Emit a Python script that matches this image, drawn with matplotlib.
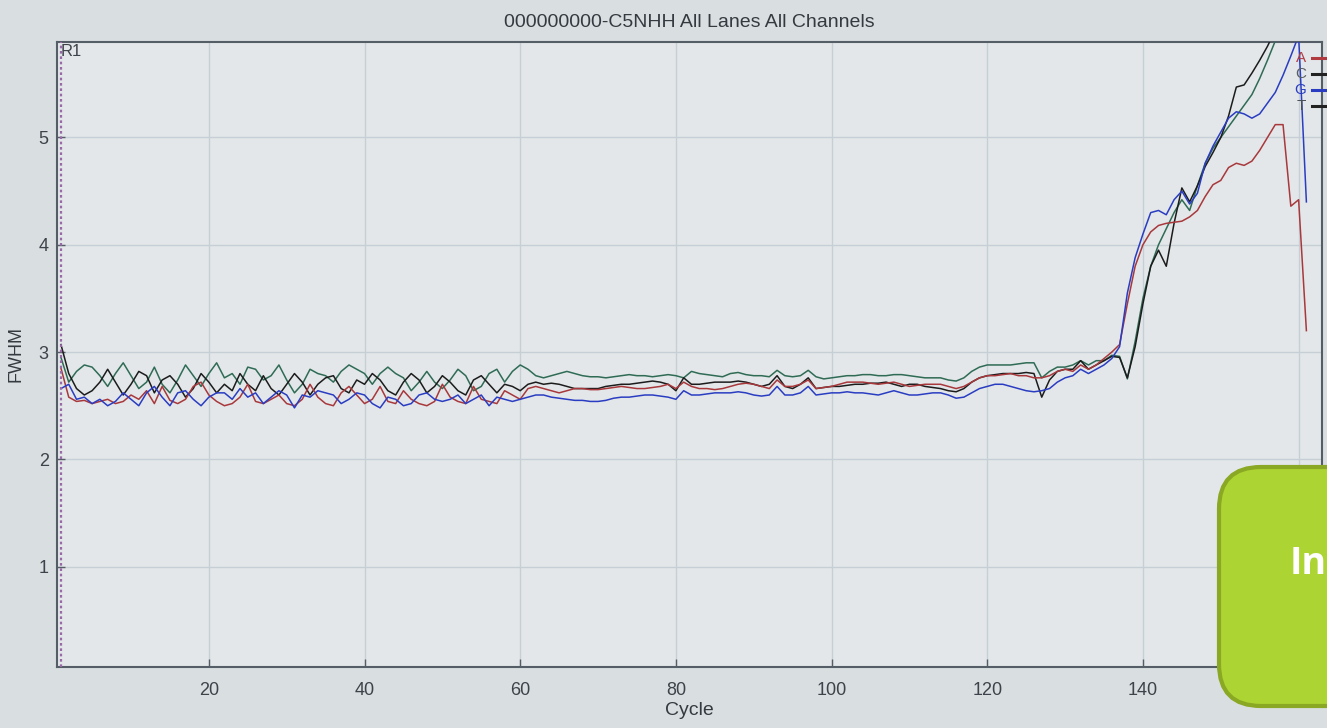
import numpy as np
import matplotlib.pyplot as plt
import matplotlib.patches as mpatches

plt.rcParams['font.family'] = ['Liberation Sans', 'DejaVu Sans']

title = "000000000-C5NHH All Lanes All Channels"
cycles = np.arange(1, 162)

# FWHM per cycle
fwhm_A = [2.85, 2.58, 2.54, 2.55, 2.52, 2.54, 2.56, 2.52, 2.54, 2.60,
          2.56, 2.64, 2.52, 2.68, 2.55, 2.52, 2.56, 2.68, 2.72, 2.60,
          2.54, 2.50, 2.52, 2.58, 2.70, 2.54, 2.52, 2.56, 2.60, 2.52,
          2.50, 2.56, 2.70, 2.58, 2.52, 2.50, 2.62, 2.68, 2.60, 2.52,
          2.56, 2.68, 2.54, 2.52, 2.64, 2.56, 2.52, 2.50, 2.54, 2.70,
          2.58, 2.54, 2.52, 2.68, 2.56, 2.54, 2.52, 2.64, 2.60, 2.56,
          2.66, 2.68, 2.66, 2.64, 2.62, 2.64, 2.66, 2.66, 2.65, 2.65,
          2.66, 2.67, 2.68, 2.67, 2.66, 2.66, 2.67, 2.68, 2.70, 2.66,
          2.72, 2.68, 2.66, 2.66, 2.65, 2.66, 2.68, 2.70, 2.71, 2.70,
          2.68, 2.66, 2.74, 2.68, 2.68, 2.70, 2.74, 2.66, 2.67, 2.68,
          2.70, 2.72, 2.72, 2.72, 2.71, 2.70, 2.71, 2.72, 2.70, 2.68,
          2.69, 2.70, 2.70, 2.70, 2.68, 2.66, 2.68, 2.72, 2.76, 2.78,
          2.78, 2.79, 2.80, 2.78, 2.78, 2.76, 2.76, 2.78, 2.82, 2.84,
          2.82, 2.88, 2.84, 2.88, 2.94, 3.00, 3.07, 3.45, 3.80, 4.00,
          4.12, 4.18, 4.20, 4.21, 4.22, 4.26, 4.32, 4.45, 4.56, 4.60,
          4.72, 4.76, 4.74, 4.78, 4.88, 5.00, 5.12, 5.12, 4.36, 4.42,
          3.20]

fwhm_C = [2.95, 2.72, 2.82, 2.88, 2.86, 2.78, 2.68, 2.80, 2.90, 2.78,
          2.66, 2.72, 2.86, 2.70, 2.62, 2.74, 2.88, 2.78, 2.68, 2.80,
          2.90, 2.76, 2.80, 2.70, 2.86, 2.84, 2.74, 2.78, 2.88, 2.74,
          2.62, 2.70, 2.84, 2.80, 2.78, 2.72, 2.82, 2.88, 2.84, 2.80,
          2.70, 2.80, 2.86, 2.80, 2.76, 2.64, 2.72, 2.82, 2.72, 2.66,
          2.74, 2.84, 2.78, 2.64, 2.68, 2.80, 2.84, 2.72, 2.82, 2.88,
          2.84, 2.78, 2.76, 2.78, 2.80, 2.82, 2.80, 2.78, 2.77, 2.77,
          2.76, 2.77, 2.78, 2.79, 2.78, 2.78, 2.77, 2.78, 2.79, 2.78,
          2.76, 2.82, 2.80, 2.79, 2.78, 2.77, 2.80, 2.81, 2.79, 2.78,
          2.78, 2.77, 2.83, 2.78, 2.77, 2.78, 2.83, 2.77, 2.75, 2.76,
          2.77, 2.78, 2.78, 2.79, 2.79, 2.78, 2.78, 2.79, 2.79, 2.78,
          2.77, 2.76, 2.76, 2.76, 2.74, 2.73, 2.76, 2.82, 2.86, 2.88,
          2.88, 2.88, 2.88, 2.89, 2.90, 2.90, 2.76, 2.82, 2.86, 2.86,
          2.88, 2.92, 2.88, 2.92, 2.92, 2.97, 2.96, 2.75, 3.10, 3.50,
          3.80, 4.00, 4.15, 4.30, 4.42, 4.32, 4.55, 4.76, 4.90, 5.00,
          5.10, 5.20, 5.30, 5.40, 5.55, 5.72, 5.90, 6.10, 6.30, 6.50,
          6.70]

fwhm_G = [2.66, 2.70, 2.56, 2.58, 2.52, 2.56, 2.50, 2.54, 2.62, 2.56,
          2.50, 2.62, 2.68, 2.58, 2.50, 2.62, 2.64, 2.56, 2.50, 2.58,
          2.62, 2.62, 2.56, 2.66, 2.58, 2.62, 2.52, 2.58, 2.64, 2.60,
          2.48, 2.60, 2.58, 2.64, 2.62, 2.60, 2.52, 2.56, 2.62, 2.60,
          2.52, 2.48, 2.58, 2.56, 2.50, 2.52, 2.60, 2.62, 2.56, 2.54,
          2.56, 2.60, 2.52, 2.56, 2.60, 2.50, 2.58, 2.56, 2.54, 2.56,
          2.58, 2.60, 2.60, 2.58, 2.57, 2.56, 2.55, 2.55, 2.54, 2.54,
          2.55, 2.57, 2.58, 2.58, 2.59, 2.60, 2.60, 2.59, 2.58, 2.56,
          2.64, 2.60, 2.60, 2.61, 2.62, 2.62, 2.62, 2.63, 2.62, 2.60,
          2.59, 2.60, 2.68, 2.60, 2.60, 2.62, 2.68, 2.60, 2.61, 2.62,
          2.62, 2.63, 2.62, 2.62, 2.61, 2.60, 2.62, 2.64, 2.62, 2.60,
          2.60, 2.61, 2.62, 2.62, 2.60, 2.57, 2.58, 2.62, 2.66, 2.68,
          2.70, 2.70, 2.68, 2.66, 2.64, 2.63, 2.64, 2.66, 2.72, 2.76,
          2.78, 2.84, 2.80, 2.84, 2.88, 2.94, 3.05, 3.55, 3.88, 4.10,
          4.30, 4.32, 4.28, 4.42, 4.50, 4.38, 4.48, 4.76, 4.92, 5.05,
          5.18, 5.24, 5.22, 5.18, 5.22, 5.32, 5.42, 5.58, 5.76, 5.95,
          4.40]

fwhm_T = [3.07, 2.80, 2.66, 2.60, 2.64, 2.72, 2.84, 2.72, 2.60, 2.70,
          2.82, 2.78, 2.62, 2.74, 2.78, 2.70, 2.58, 2.66, 2.80, 2.72,
          2.62, 2.70, 2.64, 2.80, 2.70, 2.64, 2.78, 2.66, 2.60, 2.70,
          2.80, 2.72, 2.60, 2.70, 2.76, 2.78, 2.66, 2.62, 2.74, 2.70,
          2.80, 2.74, 2.64, 2.60, 2.72, 2.80, 2.74, 2.62, 2.68, 2.78,
          2.72, 2.64, 2.60, 2.74, 2.78, 2.70, 2.62, 2.70, 2.68, 2.64,
          2.70, 2.72, 2.70, 2.71, 2.70, 2.68, 2.66, 2.66, 2.66, 2.66,
          2.68, 2.69, 2.70, 2.70, 2.71, 2.72, 2.73, 2.72, 2.70, 2.64,
          2.76, 2.70, 2.70, 2.71, 2.72, 2.72, 2.72, 2.73, 2.72, 2.70,
          2.68, 2.70, 2.78, 2.68, 2.66, 2.70, 2.76, 2.66, 2.67, 2.68,
          2.68, 2.69, 2.70, 2.70, 2.71, 2.71, 2.72, 2.70, 2.68, 2.70,
          2.70, 2.68, 2.67, 2.66, 2.64, 2.63, 2.66, 2.72, 2.76, 2.78,
          2.79, 2.80, 2.80, 2.80, 2.81, 2.80, 2.58, 2.74, 2.82, 2.84,
          2.84, 2.92, 2.84, 2.88, 2.92, 2.96, 2.95, 2.76, 3.05, 3.45,
          3.80, 3.95, 3.80, 4.20, 4.53, 4.40, 4.55, 4.73, 4.86, 5.00,
          5.20, 5.47, 5.49, 5.60, 5.72, 5.85, 6.00, 6.15, 6.30, 6.45,
          6.60]

channels = ["A", "C", "G", "T"]
line_colors = {"A": "#a8383c", "C": "#2f6b55", "G": "#2a3dc2", "T": "#1c1c1c"}
letter_colors = {"A": "#b04048", "C": "#5a5f66", "G": "#2a3dc2", "T": "#4a4f55"}
legend_line_colors = {"A": "#b03a40", "C": "#222222", "G": "#2a3dc2", "T": "#222222"}
series = {"A": fwhm_A, "C": fwhm_C, "G": fwhm_G, "T": fwhm_T}

xticks = [20, 40, 60, 80, 100, 120, 140, 160]
yticks = [1, 2, 3, 4, 5]

fig = plt.figure(figsize=(13.27, 7.28), dpi=100, facecolor="#d9dee1")
ax = fig.add_axes([0.043, 0.0838, 0.9532, 0.8585])
ax.set_facecolor("#e3e7e9")

# draw order: green and black underneath
for ch in ["C", "T", "A", "G"]:
    ax.plot(cycles, series[ch], color=line_colors[ch], lw=1.1, zorder=3)

ax.set_xlim(0.5, 163)
ax.set_ylim(0.065, 5.89)
ax.set_xticks(xticks)
ax.set_yticks(yticks)
ax.grid(True, color="#c6ced6", lw=1.0)
ax.set_axisbelow(True)
ax.tick_params(direction="in", length=6, width=1, color="#555d66",
               labelsize=13, labelcolor="#3d434a")
ax.tick_params(axis="x", pad=11)
ax.tick_params(axis="y", pad=6)
for s in ax.spines.values():
    s.set_color("#555d66")
    s.set_linewidth(1.5)

ax.set_title(title, fontsize=14, color="#343a40", pad=11)
ax.set_xlabel("Cycle", fontsize=14, color="#343a40", labelpad=2)
ax.set_ylabel("FWHM", fontsize=13, color="#343a40", labelpad=10)

# R1 marker (dotted line at the first cycle)
ax.axvline(1, color="#9a6aa8", lw=1.6, ls=(0, (1.2, 1.2)), zorder=4)
ax.text(0.003, 0.997, "R1", transform=ax.transAxes, fontsize=12,
        color="#3d434a", va="top", ha="left")

# channel legend at the right edge
for i, ch in enumerate(channels):
    yy = 0.974 - i * 0.0255
    ax.text(0.9875, yy, ch, transform=ax.transAxes, fontsize=11,
            color=letter_colors[ch], ha="right", va="center")
    ax.plot([0.9925, 1.006], [yy, yy], transform=ax.transAxes,
            color=legend_line_colors[ch], lw=2.2, clip_on=False, zorder=5)

# green badge over the lower right corner
badge = mpatches.FancyBboxPatch((12.19, 0.22), 2.2, 2.39,
                                boxstyle="round,pad=0,rounding_size=0.42",
                                transform=fig.dpi_scale_trans,
                                facecolor="#acd432", edgecolor="#8aa823",
                                lw=3, zorder=10)
fig.add_artist(badge)
fig.text(12.9 / 13.27, 1.64 / 7.28, "In", fontsize=27, fontweight="bold",
         color="white", ha="left", va="center", zorder=11,
         family=["Open Sans", "DejaVu Sans"])

fig.savefig("out.png", dpi=100, facecolor=fig.get_facecolor())
